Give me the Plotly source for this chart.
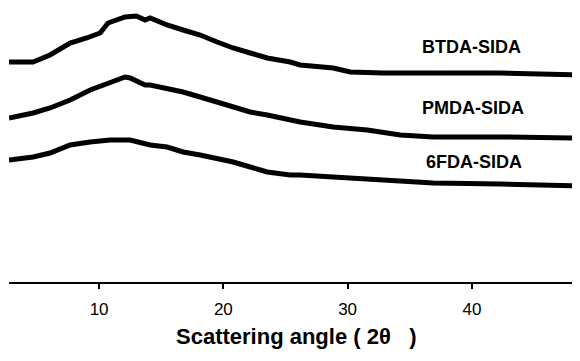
import plotly.graph_objects as go

# Scattering angle (2theta) at which the curves were read
angle_btda = [2.75, 4.69, 6.05, 7.67, 9.0, 10.08, 10.72, 12.09, 13.0, 13.70, 14.11, 15.47, 16.76, 18.13,
              19.50, 20.79, 22.16, 23.53, 25.38, 26.18, 28.84, 30.21, 32.87, 36.89, 42.29, 48.73]
btda = [220, 220, 227, 239, 244, 249, 259, 265, 266, 262, 264, 257, 252, 247,
        240, 234, 229, 224, 220, 217, 214, 210, 209, 209, 209, 207]

angle_pmda = [2.75, 4.69, 6.05, 7.67, 9.28, 10.89, 12.09, 12.50, 13.70, 14.11, 15.47, 16.76, 18.13,
              19.50, 20.79, 22.16, 23.53, 25.38, 26.18, 28.84, 31.58, 34.24, 36.89, 42.29, 48.73]
pmda = [164, 169, 174, 182, 192, 200, 205, 204, 197, 197, 194, 190, 185,
        180, 175, 170, 167, 162, 160, 155, 152, 147, 145, 145, 144]

angle_6fda = [2.75, 4.69, 6.05, 7.67, 9.28, 10.89, 12.50, 13.70, 14.11, 15.47, 16.76, 18.13,
              19.50, 20.79, 22.16, 23.53, 25.38, 26.18, 28.84, 31.58, 34.24, 36.89, 42.29, 48.73]
fda6 = [122, 125, 129, 137, 140, 142, 142, 139, 137, 135, 130, 127,
        124, 120, 115, 110, 107, 107, 105, 103, 100, 99, 98, 96]

names = ["BTDA-SIDA", "PMDA-SIDA", "6FDA-SIDA"]
tick_vals = [10, 20, 30, 40]
tick_text = ["10", "20", "30", "40"]

FONT = "Liberation Sans, Arial, sans-serif"

fig = go.Figure()
for xs, ys, nm in [(angle_btda, btda, names[0]), (angle_pmda, pmda, names[1]), (angle_6fda, fda6, names[2])]:
    fig.add_trace(go.Scatter(x=xs, y=ys, mode="lines", name=nm,
                             line=dict(color="black", width=5), showlegend=False))

label_pos = [(39.93, 235), (40.09, 174), (40.17, 120)]
for nm, (lx, ly) in zip(names, label_pos):
    fig.add_annotation(x=lx, y=ly, xref="x", yref="y", text="<b>%s</b>" % nm, showarrow=False,
                       font=dict(family=FONT, size=18, color="black"), xanchor="center", yanchor="middle")

fig.add_annotation(x=0.504, y=-0.2007, xref="paper", yref="paper",
                   text="<b>Scattering angle ( 2\u03b8\u00a0\u00a0 )</b>", showarrow=False,
                   font=dict(family=FONT, size=22, color="black"), xanchor="center", yanchor="middle")

fig.update_layout(
    width=572, height=353,
    margin=dict(l=1, r=0, t=0, b=79),
    paper_bgcolor="white", plot_bgcolor="white",
    xaxis=dict(range=[2.75, 48.7], showgrid=False, zeroline=False, showline=True,
               linecolor="black", linewidth=2, ticks="outside", ticklen=5, tickwidth=1.5,
               tickcolor="black", tickvals=tick_vals, ticktext=tick_text,
               tickfont=dict(family=FONT, size=17, color="black"), ticklabelstandoff=6),
    yaxis=dict(range=[0, 274], visible=False),
)

fig.write_html("out.html")
